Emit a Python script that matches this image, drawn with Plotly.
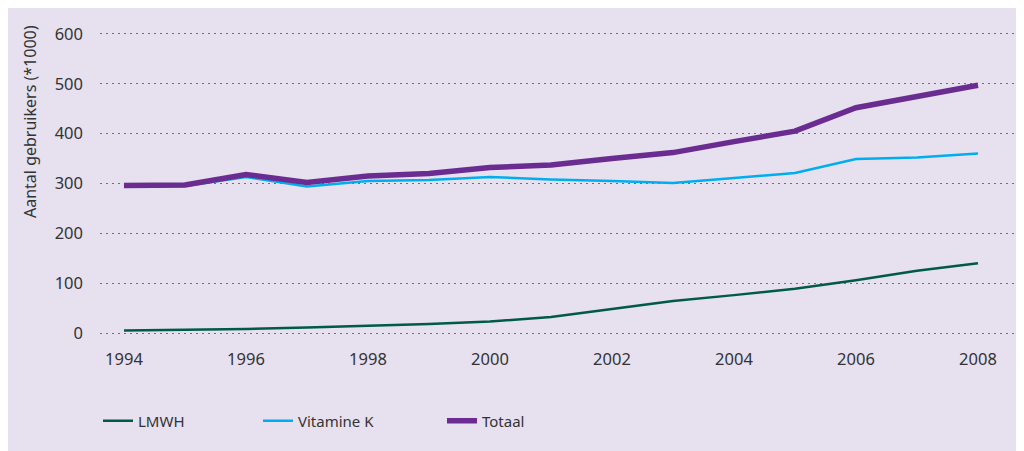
import plotly.graph_objects as go

years = list(range(1994, 2009))
lmwh = [5, 6, 8, 11, 14, 18, 23, 32, 48, 64, 76, 89, 106, 125, 140]
vitamine_k = [295, 295, 313, 294, 305, 307, 313, 308, 305, 301, 311, 321, 349, 352, 360]
totaal = [296, 297, 318, 302, 315, 320, 332, 337, 350, 362, 384, 405, 452, 474, 497]
y_ticks = [0, 100, 200, 300, 400, 500, 600]
x_ticks = [1994, 1996, 1998, 2000, 2002, 2004, 2006, 2008]

OFF = 8  # page body margin
W, H = 1016, 443
L, R, T, B = 92, 9, 24, 116
pw, ph = W - L - R, H - T - B

def px_x(p):
    return (p - OFF - L) / pw

def px_y(p):
    return (H - B - (p - OFF)) / ph

FONT = "Noto Sans"
TXT = "#333333"

fig = go.Figure()
fig.add_trace(go.Scatter(x=years, y=lmwh, name="LMWH", mode="lines",
                         line=dict(color="#005A45", width=2.5), legend="legend",
                         showlegend=True))
fig.add_trace(go.Scatter(x=years, y=vitamine_k, name="Vitamine K", mode="lines",
                         line=dict(color="#00AEEF", width=2.5), legend="legend2",
                         showlegend=True))
fig.add_trace(go.Scatter(x=years, y=totaal, name="Totaal", mode="lines",
                         line=dict(color="#6A2C91", width=5.5), legend="legend3",
                         showlegend=True))

leg_common = dict(orientation="h", xanchor="left", yanchor="middle",
                  bgcolor="rgba(0,0,0,0)", borderwidth=0,
                  font=dict(family=FONT, size=15, color=TXT))

fig.update_layout(
    width=W, height=H,
    margin=dict(l=L, r=R, t=T, b=B, autoexpand=False),
    paper_bgcolor="#E6E0EF",
    plot_bgcolor="rgba(0,0,0,0)",
    showlegend=True,
    font=dict(family=FONT, size=16, color=TXT),
    legend=dict(x=px_x(98), y=px_y(421), **leg_common),
    legend2=dict(x=px_x(258), y=px_y(421), **leg_common),
    legend3=dict(x=px_x(442), y=px_y(421), **leg_common),
    xaxis=dict(range=[1993.607, 2008.607], tickvals=x_ticks,
               ticktext=[str(v) for v in x_ticks],
               showgrid=False, zeroline=False, showline=False,
               ticks="", ticklabelstandoff=12,
               tickfont=dict(family=FONT, size=16.5, color=TXT)),
    yaxis=dict(range=[-4, 604], tickvals=y_ticks,
               showgrid=True, gridcolor="#707070", gridwidth=1,
               griddash="2px,4px", zeroline=False, showline=False,
               ticks="", ticklabelstandoff=16,
               tickfont=dict(family=FONT, size=16.5, color=TXT)),
    annotations=[dict(text="Aantal gebruikers (*1000)", xref="paper", yref="paper",
                      x=px_x(30), y=px_y(122), textangle=-90, showarrow=False,
                      xanchor="center", yanchor="middle",
                      font=dict(family=FONT, size=16, color=TXT))],
)

fig.write_html("out.html")
